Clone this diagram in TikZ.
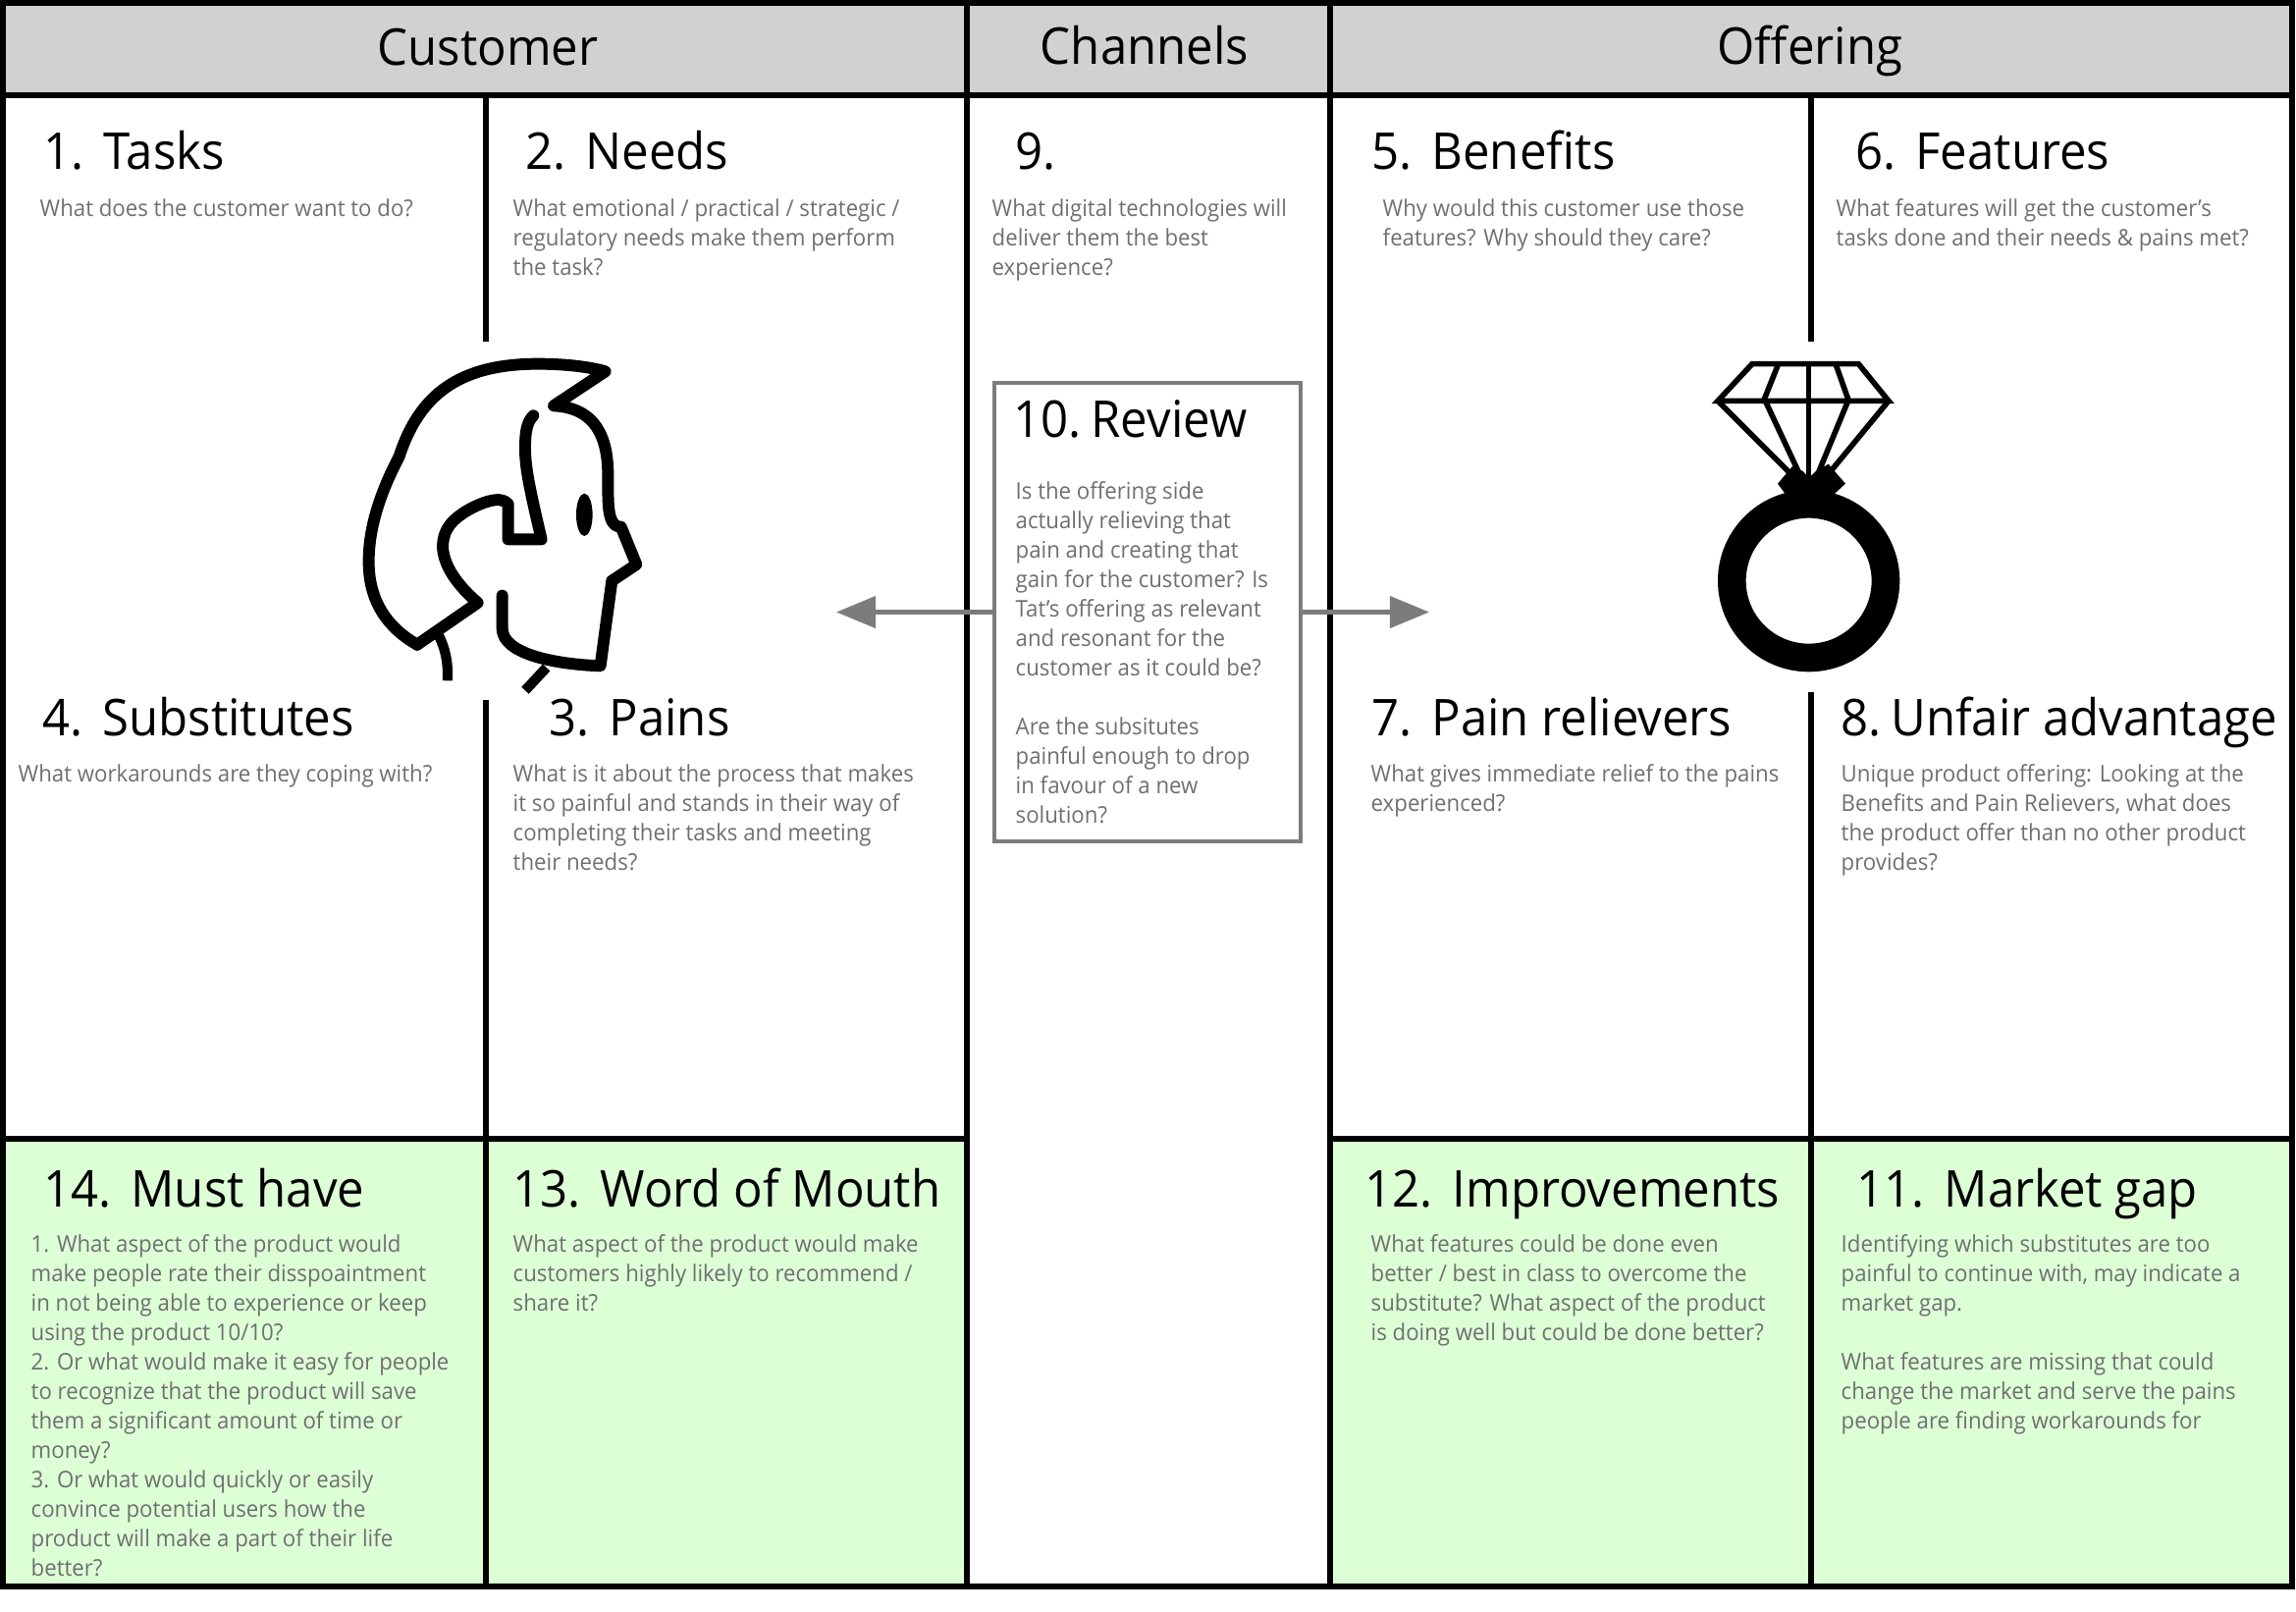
\documentclass[tikz,border=0pt]{standalone}
\usepackage{fontspec}
\setmainfont[FakeStretch=0.95]{Open Sans}
\usetikzlibrary{arrows.meta}
\definecolor{bandgrey}{HTML}{D1D1D1}
\definecolor{cellgreen}{HTML}{DDFFD6}
\definecolor{bodygrey}{HTML}{6F6F71}
\definecolor{reviewgrey}{HTML}{7C7C7C}
\newcommand{\widegap}{\hspace{5.6pt}}
\newcommand{\narrowgap}{\hspace{2.7pt}}
\tikzset{
    bandtitle/.style={anchor=base,inner sep=0pt,font=\fontsize{14.7pt}{17pt}\selectfont},
    celltitle/.style={anchor=base west,inner sep=0pt,font=\fontsize{14.7pt}{17pt}\selectfont},
    cellbody/.style={anchor=north west,inner sep=0pt,align=left,text=bodygrey,font=\fontsize{6.65pt}{8.53pt}\selectfont},
    gridline/.style={line width=1.6pt},
    outline/.style={line width=1.7pt},
    pointer/.style={draw=reviewgrey,line width=1.15pt,-{Triangle[length=0.4cm,width=0.32cm]}},
    headline/.style={line width=3.4pt,line join=round,line cap=round},
    gemline/.style={line width=1.6pt}
}
\begin{document}
\begin{tikzpicture}[x=0.01cm,y=-0.01cm]
    \useasboundingbox (0,0) rectangle (2339,1641);

    %green cells
    \fill[cellgreen] (3,1160) rectangle (985,1615);
    \fill[cellgreen] (1355,1160) rectangle (2334,1615);

    %header band
    \fill[bandgrey] (3,3) rectangle (2334,97);

    %grid
    \draw[outline] (3,3) rectangle (2334.5,1615.5);
    \draw[outline] (3,97) to (2334.5,97);
    \draw[outline] (985,3) to (985,1615);
    \draw[outline] (1355,3) to (1355,1615);
    \draw[outline] (3,1160) to (985,1160);
    \draw[outline] (1355,1160) to (2334.5,1160);
    \draw[gridline] (495,97) to (495,348);
    \draw[gridline] (495,713) to (495,1615);
    \draw[gridline] (1845,97) to (1845,348);
    \draw[gridline] (1845,705) to (1845,1615);

    %band titles
    \node[bandtitle] (customer) at (497,66) {Customer};
    \node[bandtitle] (channels) at (1166,65) {Channels};
    \node[bandtitle] (offering) at (1844,65) {Offering};

    %top row
    \node[celltitle] (tasks) at (44,172) {1.\widegap Tasks};
    \node[cellbody] (tasksq) at (40,202) {What does the customer want to do?};
    \node[celltitle] (needs) at (535,172) {2.\widegap Needs};
    \node[cellbody] (needsq) at (522,202) {What emotional / practical / strategic /\\regulatory needs make them perform\\the task?};
    \node[celltitle] (digital) at (1034,172) {9.};
    \node[cellbody] (digitalq) at (1010,202) {What digital technologies will\\deliver them the best\\experience?};
    \node[celltitle] (benefits) at (1397,172) {5.\widegap Benefits};
    \node[cellbody] (benefitsq) at (1408,202) {Why would this customer use those\\features? Why should they care?};
    \node[celltitle] (features) at (1890,172) {6.\widegap Features};
    \node[cellbody] (featuresq) at (1870,202) {What features will get the customer’s\\tasks done and their needs \& pains met?};

    %middle row
    \node[celltitle] (subst) at (43,749) {4.\widegap Substitutes};
    \node[cellbody] (substq) at (18,778) {What workarounds are they coping with?};
    \node[celltitle] (pains) at (559,749) {3.\widegap Pains};
    \node[cellbody] (painsq) at (522,778) {What is it about the process that makes\\it so painful and stands in their way of\\completing their tasks and meeting\\their needs?};
    \node[celltitle] (reliev) at (1397,749) {7.\widegap Pain relievers};
    \node[cellbody] (relievq) at (1396,778) {What gives immediate relief to the pains\\experienced?};
    \node[celltitle] (unfair) at (1875,749) {8.\narrowgap Unfair advantage};
    \node[cellbody] (unfairq) at (1875,778) {Unique product offering: Looking at the\\Benefits and Pain Relievers, what does\\the product offer than no other product\\provides?};

    %bottom row
    \node[celltitle] (must) at (44,1229) {14.\widegap Must have};
    \node[cellbody] (mustq) at (31,1257) {1. What aspect of the product would\\make people rate their disspoaintment\\in not being able to experience or keep\\using the product 10/10?\\2. Or what would make it easy for people\\to recognize that the product will save\\them a significant amount of time or\\money?\\3. Or what would quickly or easily\\convince potential users how the\\product will make a part of their life\\better?};
    \node[celltitle] (word) at (522,1229) {13.\widegap Word of Mouth};
    \node[cellbody] (wordq) at (522,1257) {What aspect of the product would make\\customers highly likely to recommend /\\share it?};
    \node[celltitle] (improve) at (1390,1229) {12.\widegap Improvements};
    \node[cellbody] (improveq) at (1396,1257) {What features could be done even\\better / best in class to overcome the\\substitute? What aspect of the product\\is doing well but could be done better?};
    \node[celltitle] (market) at (1891,1229) {11.\widegap Market gap};
    \node[cellbody] (marketq) at (1875,1257) {Identifying which substitutes are too\\painful to continue with, may indicate a\\market gap.\\[8.53pt]What features are missing that could\\change the market and serve the pains\\people are finding workarounds for};

    %review box
    \node[draw=reviewgrey,fill=white,line width=1pt,minimum width=3.12cm,minimum height=4.67cm,inner sep=0pt] (review) at (1169,623.5) {};
    \node[celltitle] (reviewt) at (1032,445) {10.\narrowgap Review};
    \node[cellbody] (reviewq) at (1034,490) {Is the offering side\\actually relieving that\\pain and creating that\\gain for the customer? Is\\Tat’s offering as relevant\\and resonant for the\\customer as it could be?\\[8.53pt]Are the subsitutes\\painful enough to drop\\in favour of a new\\solution?};

    %review arrows
    \coordinate (toleft) at (852,623.5);
    \coordinate (toright) at (1456,623.5);
    \draw[pointer] (review) to (toleft);
    \draw[pointer] (review) to (toright);

    %head
    \begin{scope}[shift={(340,340)},scale=0.3333]
        \draw[headline] (255,950) .. controls (150,890) and (105,800) .. (107,690)
            .. controls (108,580) and (150,470) .. (200,375)
            .. controls (260,190) and (380,90) .. (630,92)
            .. controls (700,92) and (780,100) .. (830,115)
            -- (672,220)
            .. controls (780,225) and (835,290) .. (838,420)
            .. controls (840,500) and (830,590) .. (878,590)
            -- (925,705) -- (850,755) -- (815,1015)
            .. controls (680,1010) and (515,980) .. (515,900) -- (515,800);
        \draw[headline] (255,950) -- (440,822)
            .. controls (380,770) and (335,710) .. (333,650)
            .. controls (335,590) and (370,565) .. (400,545)
            .. controls (440,520) and (510,490) .. (533,520)
            -- (533,628) -- (635,628)
            .. controls (600,480) and (585,410) .. (585,350)
            .. controls (585,300) and (590,270) .. (610,250);
        \draw[line width=2.9pt] (320,920) .. controls (340,960) and (350,1000) .. (348,1060);
        \draw[line width=2.9pt] (650,1020) to (585,1090);
        \fill (766,553) ellipse (25 and 65);
    \end{scope}

    %ring
    \begin{scope}[shift={(1700,340)},scale=0.3333]
        \draw[gemline] (150,205) -- (255,92) -- (580,92) -- (672,205) -- cycle;
        \draw[gemline] (335,92) to (290,205);
        \draw[gemline] (510,92) to (550,205);
        \draw[gemline] (428,92) to (428,440);
        \draw[gemline] (150,205) to (370,425);
        \draw[gemline] (672,205) to (495,420);
        \draw[gemline] (295,205) to (405,440);
        \draw[gemline] (548,205) to (455,430);
        \fill (333,458) -- (378,405) -- (410,420) -- (428,440) -- (450,420) -- (488,398) -- (540,458) -- (500,495) -- (360,495) -- cycle;
        \fill[even odd rule] (428,755) circle (278) (428,755) circle (192);
    \end{scope}
\end{tikzpicture}
\end{document}
